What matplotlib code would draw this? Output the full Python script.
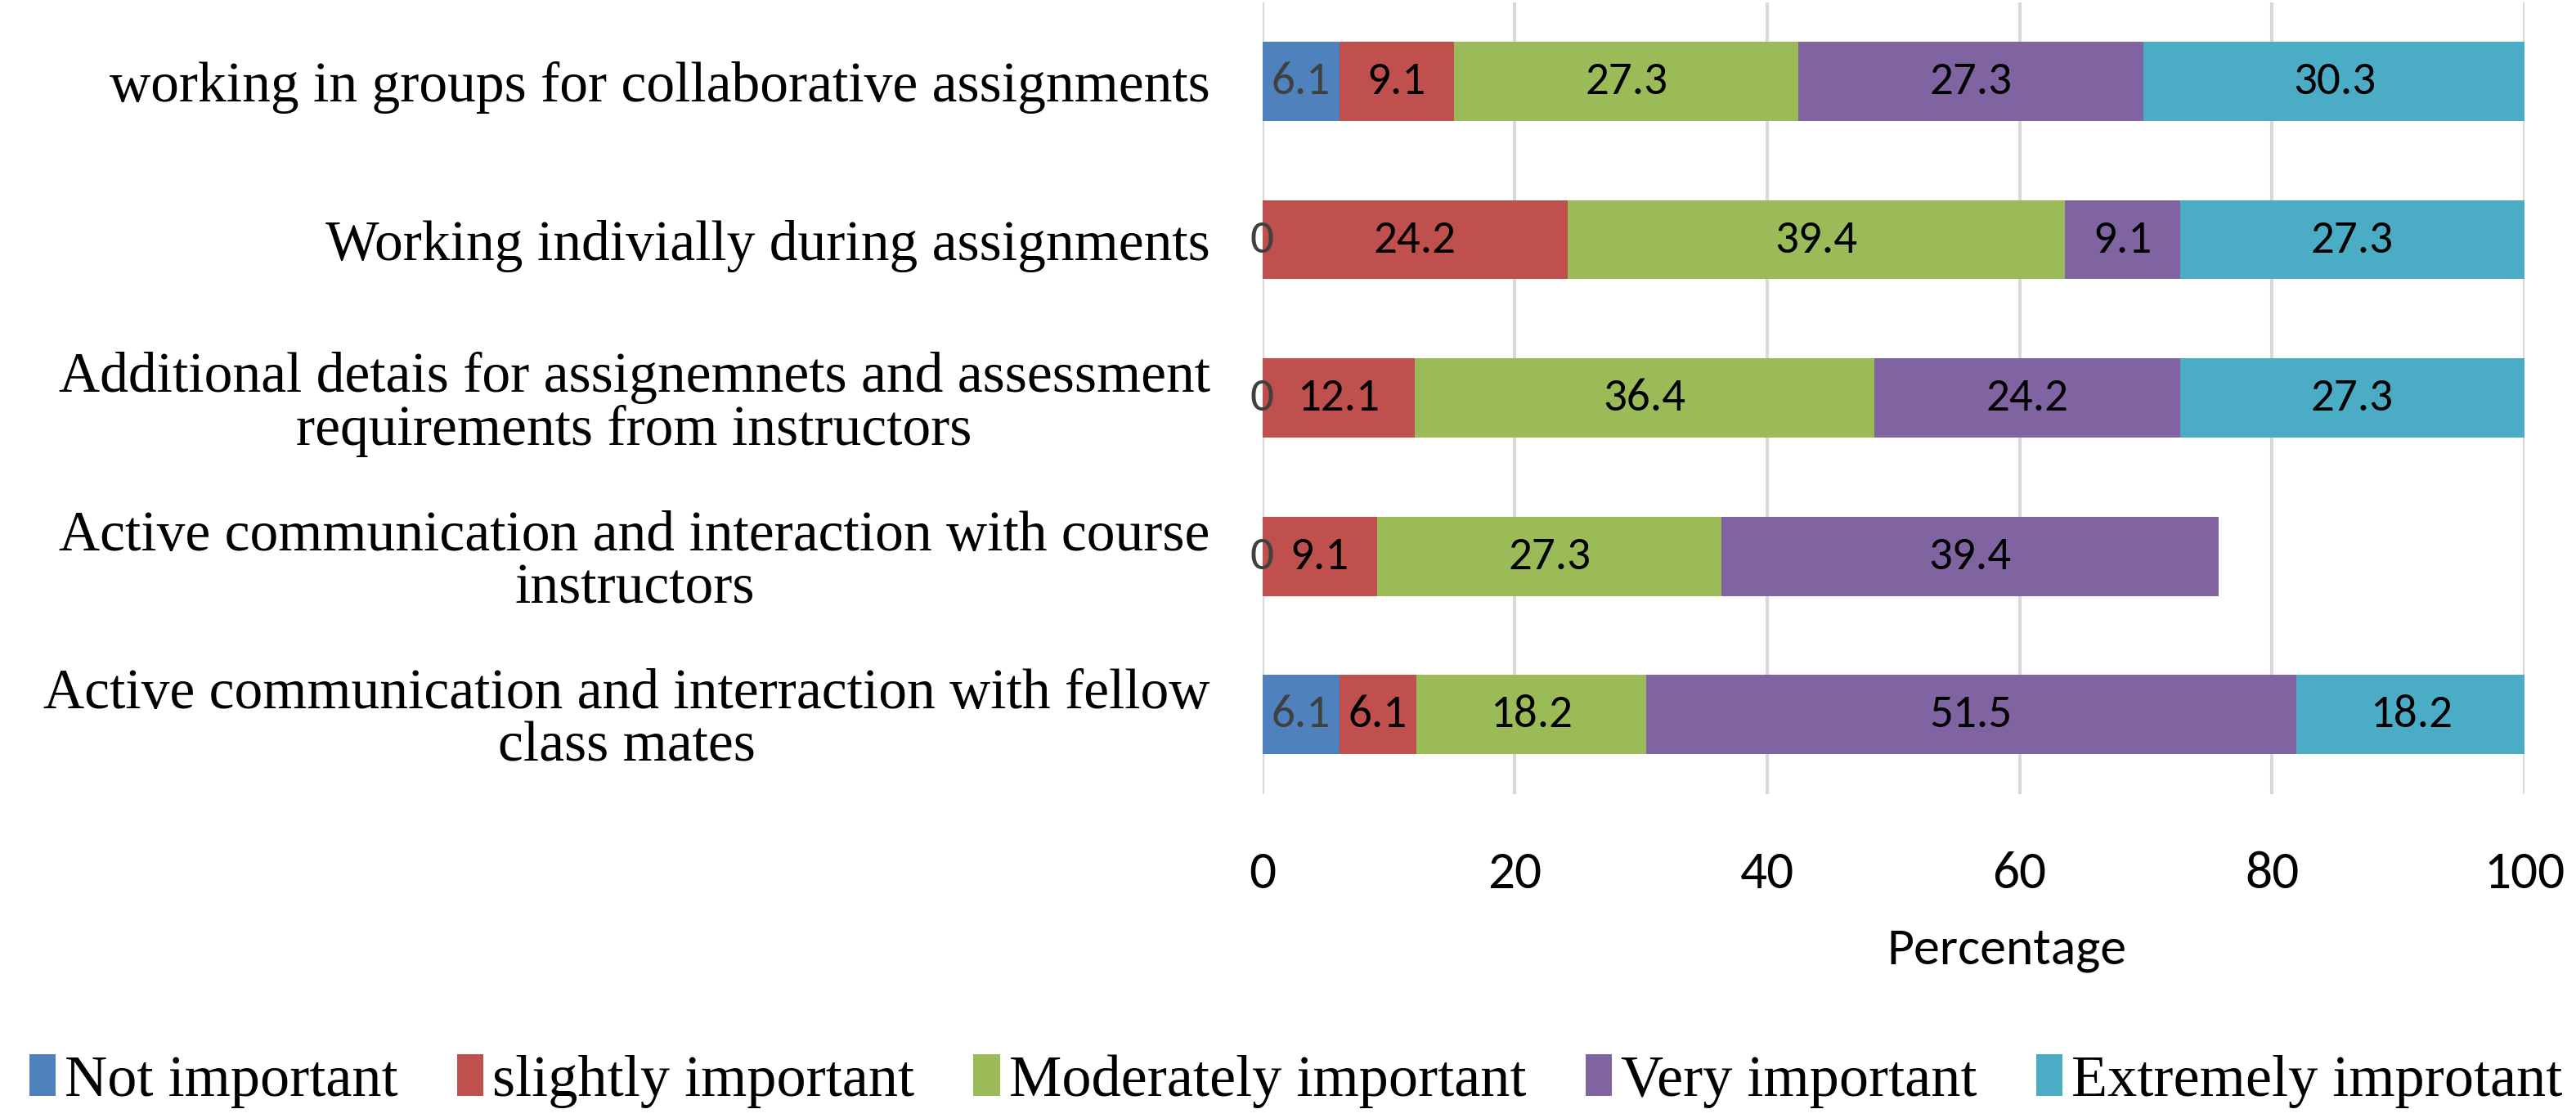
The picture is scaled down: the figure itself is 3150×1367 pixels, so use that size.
import numpy as np
import matplotlib.pyplot as plt

plt.rcParams['font.family'] = ['Liberation Serif', 'DejaVu Serif']

categories = [
    'working in groups for collaborative assignments',
    'Working indivially during assignments',
    'Additional detais for assignemnets and assessment\nrequirements from instructors',
    'Active communication and interaction with course\ninstructors',
    'Active communication and interraction with fellow\nclass mates',
]
levels = ['Not important', 'slightly important', 'Moderately important',
          'Very important', 'Extremely improtant']

not_important = [6.1, 0, 0, 0, 6.1]
slightly_important = [9.1, 24.2, 12.1, 9.1, 6.1]
moderately_important = [27.3, 39.4, 36.4, 27.3, 18.2]
very_important = [27.3, 9.1, 24.2, 39.4, 51.5]
extremely_important = [30.3, 27.3, 27.3, np.nan, 18.2]

series = [not_important, slightly_important, moderately_important,
          very_important, extremely_important]
colors = ['#4F81BD', '#C0504D', '#9BBB59', '#8064A2', '#4BACC6']
label_colors = ['#404040', 'black', 'black', 'black', 'black']

num_font = ['Carlito', 'Lato']

fig = plt.figure(figsize=(31.5, 13.67), dpi=100)
ax = fig.add_axes([0.49, 0.29, 0.49, 0.708])

y = np.arange(len(categories))
left = np.zeros(len(categories))
for vals, col, lcol, name in zip(series, colors, label_colors, levels):
    v = np.array(vals, dtype=float)
    w = np.nan_to_num(v)
    ax.barh(y, w, left=left, height=0.5, color=col, label=name)
    for i, val in enumerate(v):
        if np.isnan(val):
            continue
        txt = '0' if val == 0 else f'{val:.1f}'
        ax.text(left[i] + w[i] / 2, y[i], txt, ha='center', va='center',
                fontsize=41, color=lcol, family=num_font)
    left += w

ax.set_ylim(len(categories) - 0.5, -0.5)
ax.set_xlim(0, 100)
ax.set_xticks([0, 20, 40, 60, 80, 100])
ax.set_yticks(y)
ax.set_yticklabels(categories, fontsize=50, multialignment='center',
                   linespacing=1.02)
for lab in ax.get_xticklabels():
    lab.set_family(num_font)
ax.tick_params(axis='x', labelsize=47, length=0, pad=50)
ax.tick_params(axis='y', length=0, pad=46)
ax.grid(axis='x', color='#D9D9D9', linewidth=3)
ax.set_axisbelow(True)
for s in ax.spines.values():
    s.set_visible(False)

ax.set_xlabel('Percentage', fontsize=46, family=num_font)
ax.xaxis.set_label_coords(0.59, -0.17)

fig.legend(loc='center', bbox_to_anchor=(0.503, 0.033), ncol=5,
           frameon=False, fontsize=52, handlelength=0.45, handleheight=0.7,
           handletextpad=0.15, columnspacing=1.0, borderaxespad=0)

fig.savefig('out.png', dpi=100)
